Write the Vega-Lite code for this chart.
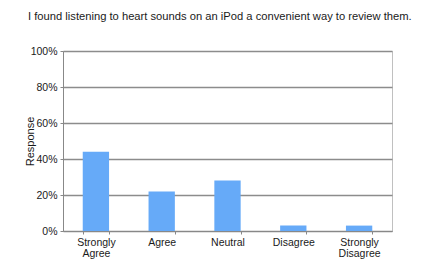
{
  "$schema": "https://vega.github.io/schema/vega-lite/v6.json",
  "width": 329,
  "height": 180,
  "autosize": "none",
  "padding": {"left": 63, "top": 51, "right": 31, "bottom": 38},
  "background": "white",
  "title": {
    "text": "I found listening to heart sounds on an iPod a convenient way to review them.",
    "anchor": "start",
    "frame": "group",
    "dx": -35,
    "offset": 24,
    "font": "Liberation Sans",
    "fontSize": 11.2,
    "fontWeight": "normal",
    "color": "#1a1a1a"
  },
  "data": {
    "values": [
      {"answer": "Strongly Agree", "share": 0.44},
      {"answer": "Agree", "share": 0.22},
      {"answer": "Neutral", "share": 0.28},
      {"answer": "Disagree", "share": 0.03},
      {"answer": "Strongly Disagree", "share": 0.03}
    ]
  },
  "mark": {"type": "bar", "color": "#66aaf8"},
  "encoding": {
    "x": {
      "field": "answer",
      "type": "nominal",
      "sort": null,
      "scale": {"paddingInner": 0.6, "paddingOuter": 0.3},
      "axis": {
        "title": null,
        "labelAngle": 0,
        "labelExpr": "split(datum.label, ' ')",
        "labelFont": "Liberation Sans",
        "labelFontSize": 10.5,
        "labelLineHeight": 11,
        "labelColor": "#1a1a1a",
        "labelPadding": 3,
        "domainColor": "#888888",
        "tickColor": "#888888",
        "tickSize": 3,
        "tickBand": "extent"
      }
    },
    "y": {
      "field": "share",
      "type": "quantitative",
      "scale": {"domain": [0, 1]},
      "axis": {
        "title": "Response",
        "format": ".0%",
        "values": [0, 0.2, 0.4, 0.6, 0.8, 1],
        "labelFont": "Liberation Sans",
        "labelFontSize": 10.5,
        "labelColor": "#1a1a1a",
        "labelPadding": 3,
        "tickSize": 3,
        "tickColor": "#888888",
        "domainColor": "#888888",
        "gridColor": "#8c8c8c",
        "gridWidth": 1.3,
        "titleFont": "Liberation Sans",
        "titleFontSize": 11,
        "titleFontWeight": "normal",
        "titleColor": "#1a1a1a",
        "titleX": -33,
        "titleY": 90,
        "titleAngle": -90,
        "titleAlign": "center",
        "titleBaseline": "middle"
      }
    }
  },
  "config": {
    "view": {"stroke": "#c0c0c0", "strokeWidth": 1}
  }
}
